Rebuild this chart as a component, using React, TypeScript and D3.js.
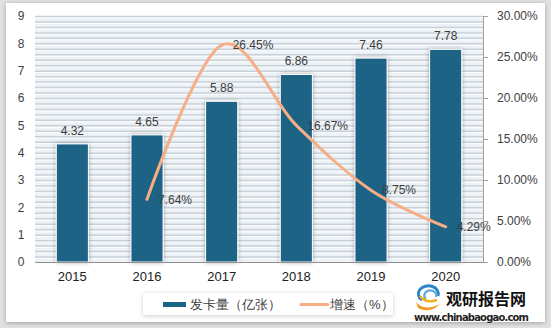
import React from "react";
import * as d3 from "d3";

const years = ["2015", "2016", "2017", "2018", "2019", "2020"];
const cards = [4.32, 4.65, 5.88, 6.86, 7.46, 7.78];
const growthYears = ["2016", "2017", "2018", "2019", "2020"];
const growth = [7.64, 26.45, 16.67, 8.75, 4.29];
const leftTicks = [0, 1, 2, 3, 4, 5, 6, 7, 8, 9];
const rightTicks = [0, 5, 10, 15, 20, 25, 30];
const seriesNames = ["发卡量（亿张）", "增速（%）"];

const W = 551;
const H = 328;
const M = { left: 35, right: 483, top: 16, bottom: 262 };
const BAR = "#1c6486";
const LINE = "#f7ae86";
const TEXT = "#404040";
const FONT = "'Liberation Sans', Arial, sans-serif";

export default function App() {
  const x = d3.scaleBand<string>().domain(years).range([M.left, M.right]).paddingInner(0.57).paddingOuter(0.285);
  const y = d3.scaleLinear().domain([0, 9]).range([M.bottom, M.top]);
  const y2 = d3.scaleLinear().domain([0, 30]).range([M.bottom, M.top]);
  const cx = (c: string) => (x(c) as number) + x.bandwidth() / 2;
  const minor = d3.range(0, 45).map((i) => i * 0.2);
  const linePts: [number, number][] = growth.map((g, i) => [cx(growthYears[i]), y2(g)]);
  const linePath = d3.line().curve(d3.curveCardinal.tension(0))(linePts) || "";

  return (
    <svg width={W} height={H} style={{ position: "absolute", left: 0, top: 0, fontFamily: FONT }}>
      <defs>
        <filter id="panelShadow" x="-5%" y="-5%" width="110%" height="110%">
          <feDropShadow dx="0" dy="1" stdDeviation="2.5" floodColor="#000" floodOpacity="0.3" />
        </filter>
        <filter id="barShadow" x="-30%" y="-10%" width="160%" height="120%">
          <feDropShadow dx="0" dy="0" stdDeviation="2" floodColor="#000" floodOpacity="0.3" />
        </filter>
        <filter id="legShadow" x="-10%" y="-30%" width="120%" height="170%">
          <feDropShadow dx="0" dy="1" stdDeviation="2" floodColor="#000" floodOpacity="0.2" />
        </filter>
      </defs>
      <rect x={0} y={0} width={W} height={H} fill="#e2e2e2" />
      <rect x={6} y={3} width={539} height={319} fill="#ffffff" filter="url(#panelShadow)" />

      {/* plot background with striped minor gridlines */}
      <rect x={M.left} y={M.top} width={M.right - M.left} height={M.bottom - M.top} fill="#edf2f7" />
      {minor.map((v, i) => (
        <g key={i}>
          <line x1={M.left} x2={M.right} y1={y(v + 0.2) + 0.5} y2={y(v + 0.2) + 0.5} stroke="#c8d0d8" strokeWidth={1.5} />
          <line x1={M.left} x2={M.right} y1={y(v + 0.2) + 2} y2={y(v + 0.2) + 2} stroke="#ffffff" strokeWidth={1} opacity={0.8} />
        </g>
      ))}

      {/* bars */}
      {cards.map((v, i) => (
        <rect
          key={years[i]}
          x={x(years[i])}
          y={y(v)}
          width={x.bandwidth()}
          height={M.bottom - y(v)}
          fill={BAR}
          stroke="#ffffff"
          strokeWidth={1}
          filter="url(#barShadow)"
        />
      ))}

      {/* axes */}
      <line x1={M.left} x2={M.right} y1={M.bottom + 0.5} y2={M.bottom + 0.5} stroke="#909090" strokeWidth={1} />
      <line x1={M.right + 0.5} x2={M.right + 0.5} y1={M.top} y2={M.bottom} stroke="#a0a0a0" strokeWidth={1} />
      {rightTicks.map((t) => (
        <g key={t}>
          <line x1={M.right} x2={M.right + 5} y1={y2(t) + 0.5} y2={y2(t) + 0.5} stroke="#a0a0a0" />
          <text x={497} y={y2(t)} dy="0.35em" fontSize={12} fill={TEXT}>
            {t.toFixed(2) + "%"}
          </text>
        </g>
      ))}
      {leftTicks.map((t) => (
        <text key={t} x={21} y={y(t)} dy="0.35em" fontSize={12} fill={TEXT} textAnchor="middle">
          {t}
        </text>
      ))}
      {years.map((c) => (
        <text key={c} x={cx(c)} y={281} fontSize={13} fill="#222" textAnchor="middle">
          {c}
        </text>
      ))}

      {/* bar labels */}
      {cards.map((v, i) => (
        <text key={"l" + i} x={cx(years[i])} y={y(v) - 9} fontSize={12} fill={TEXT} textAnchor="middle">
          {v.toFixed(2)}
        </text>
      ))}

      {/* line */}
      <path d={linePath} fill="none" stroke={LINE} strokeWidth={3} strokeLinecap="round" />
      {growth.map((g, i) => (
        <text key={"g" + i} x={cx(growthYears[i]) + 11} y={y2(g)} dy="0.35em" fontSize={12} fill={TEXT}>
          {g.toFixed(2) + "%"}
        </text>
      ))}

      {/* legend */}
      <rect x={143} y={293} width={250} height={22} fill="#ffffff" filter="url(#legShadow)" />
      <rect x={163} y={302} width={23} height={5} fill={BAR} />
      <text x={190} y={309} fontSize={13} fill={TEXT}>{seriesNames[0]}</text>
      <line x1={301} x2={328} y1={304.5} y2={304.5} stroke={LINE} strokeWidth={3} strokeLinecap="round" />
      <text x={330} y={309} fontSize={13} fill={TEXT}>{seriesNames[1]}</text>

      {/* watermark logo */}
      <g>
        <path d="M 422 300 A 10 8 0 1 1 438 296" fill="none" stroke="#2a86c8" strokeWidth={3} />
        <path d="M 426 299 A 6 5 0 1 1 436 297" fill="none" stroke="#5aa8dc" strokeWidth={2.2} />
        <path d="M 416 302 Q 424 312 440 304 Q 430 314 418 308 Z" fill="#f39a1e" />
        <path d="M 420 296 Q 426 304 437 300" fill="none" stroke="#f5b01e" strokeWidth={2.5} />
      </g>
      <text x={446} y={305} fontSize={16} fontWeight="bold" fill="#111" fontFamily="'Noto Sans CJK SC', sans-serif">
        观研报告网
      </text>
      <text x={414} y={321} fontSize={10} fontWeight="bold" fill="#222" fontFamily="'DejaVu Sans', sans-serif" textLength={115}>
        www.chinabaogao.com
      </text>
    </svg>
  );
}
